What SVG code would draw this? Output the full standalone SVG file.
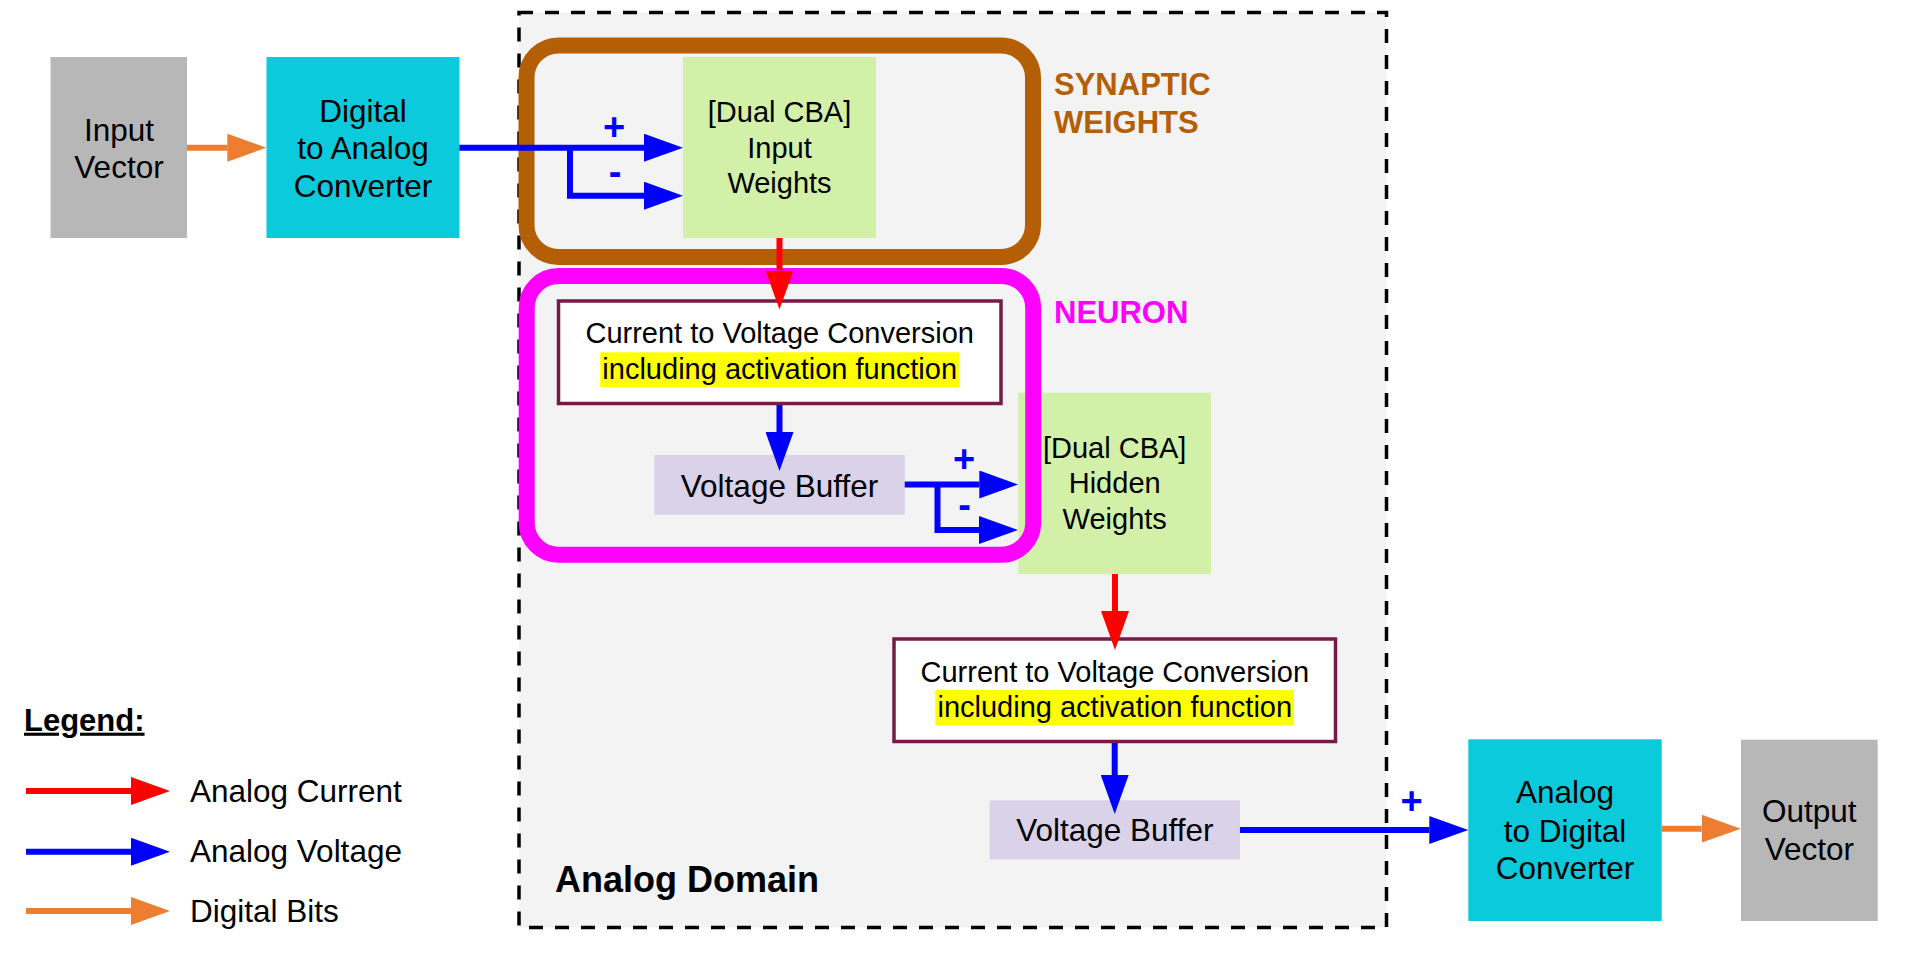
<svg xmlns="http://www.w3.org/2000/svg" width="1920" height="954" viewBox="0 0 1920 954">
<defs>
<style>
text{font-family:"Liberation Sans",Arial,sans-serif;fill:#000}
.lbl{font-size:31.5px;text-anchor:middle}
.wt{font-size:29px;text-anchor:middle}
.cv{font-size:29px;text-anchor:middle}
.sign{font-size:38px;font-weight:bold;fill:#0000ff;text-anchor:middle}
.leg{font-size:31.5px}
.vec{fill:#b7b7b7}
.conv{fill:#0bcadb}
.wbox{fill:#d2f0a7}
.buf{fill:#d9d2e9}
.cvbox{fill:#ffffff;stroke:#741b47;stroke-width:3.5}
.hl{fill:#ffff00}
.red{stroke:#ff0000;stroke-width:6;fill:none}
.blue{stroke:#0000ff;stroke-width:6;fill:none;stroke-linejoin:miter}
.orange{stroke:#ed7d31;stroke-width:6;fill:none}
</style>
<marker id="hr" markerUnits="userSpaceOnUse" markerWidth="40" markerHeight="28" refX="0" refY="14" orient="auto"><path d="M0,0 L39,14 L0,28 Z" fill="#ff0000"/></marker>
<marker id="hb" markerUnits="userSpaceOnUse" markerWidth="40" markerHeight="28" refX="0" refY="14" orient="auto"><path d="M0,0 L39,14 L0,28 Z" fill="#0000ff"/></marker>
<marker id="ho" markerUnits="userSpaceOnUse" markerWidth="40" markerHeight="28" refX="0" refY="14" orient="auto"><path d="M0,0 L39,14 L0,28 Z" fill="#ed7d31"/></marker>
</defs>
<rect width="1920" height="954" fill="#ffffff"/>

<g id="analog-domain">
<rect x="519" y="12.5" width="867.5" height="915" fill="#f3f3f3" stroke="#000" stroke-width="3.5" stroke-dasharray="14 12"/>
<text x="555" y="892" style="font-size:36px;font-weight:bold">Analog Domain</text>
</g>

<g id="input-vector">
<rect class="vec" x="50.5" y="57" width="136.5" height="181"/>
<text class="lbl" x="119" y="140.7">Input</text>
<text class="lbl" x="119" y="178.3">Vector</text>
</g>

<g id="dac">
<rect class="conv" x="266.5" y="57" width="193" height="181"/>
<text class="lbl" x="363" y="121.7">Digital</text>
<text class="lbl" x="363" y="159.3">to Analog</text>
<text class="lbl" x="363" y="197.3">Converter</text>
</g>

<g id="input-weights">
<rect class="wbox" x="683" y="57" width="193" height="181"/>
<text class="wt" x="779.5" y="121.7">[Dual CBA]</text>
<text class="wt" x="779.5" y="158.3">Input</text>
<text class="wt" x="779.5" y="193.3">Weights</text>
</g>

<g id="hidden-weights">
<rect class="wbox" x="1018.3" y="392.7" width="192.7" height="181.3"/>
<text class="wt" x="1114.7" y="457.7">[Dual CBA]</text>
<text class="wt" x="1114.7" y="493.3">Hidden</text>
<text class="wt" x="1114.7" y="529">Weights</text>
</g>

<g id="synaptic-weights">
<rect x="526.5" y="45.5" width="506.5" height="211.5" rx="32" ry="32" fill="none" stroke="#b45f06" stroke-width="16"/>
<text x="1054" y="95" style="font-size:31px;font-weight:bold;fill:#b45f06">SYNAPTIC</text>
<text x="1054" y="133.3" style="font-size:31px;font-weight:bold;fill:#b45f06">WEIGHTS</text>
</g>

<g id="neuron">
<rect x="526.7" y="276" width="506.5" height="278.7" rx="32" ry="32" fill="none" stroke="#ff00ff" stroke-width="16"/>
<text x="1054" y="323.3" style="font-size:31px;font-weight:bold;fill:#ff00ff">NEURON</text>
</g>

<g id="cv1">
<rect class="cvbox" x="558.5" y="301" width="442.5" height="102.5"/>
<rect class="hl" x="600.3" y="352.3" width="358.7" height="35"/>
<text class="cv" x="779.7" y="343.3">Current to Voltage Conversion</text>
<text class="cv" x="779.7" y="379.3">including activation function</text>
</g>

<g id="buffer1">
<rect class="buf" x="654.3" y="455" width="250.4" height="59.7"/>
<text class="lbl" x="779.5" y="496.7">Voltage Buffer</text>
</g>

<g id="cv2">
<rect class="cvbox" x="894" y="639" width="441.5" height="102.5"/>
<rect class="hl" x="935.3" y="690" width="358.7" height="35.3"/>
<text class="cv" x="1114.8" y="681.7">Current to Voltage Conversion</text>
<text class="cv" x="1114.8" y="717.3">including activation function</text>
</g>

<g id="buffer2">
<rect class="buf" x="989.7" y="800.3" width="250.3" height="59"/>
<text class="lbl" x="1114.8" y="840.7">Voltage Buffer</text>
</g>

<g id="adc">
<rect class="conv" x="1468.3" y="739.3" width="193.4" height="181.7"/>
<text class="lbl" x="1565" y="803.3">Analog</text>
<text class="lbl" x="1565" y="841.7">to Digital</text>
<text class="lbl" x="1565" y="879.3">Converter</text>
</g>

<g id="output-vector">
<rect class="vec" x="1741" y="739.7" width="136.7" height="181.3"/>
<text class="lbl" x="1809.3" y="821.7">Output</text>
<text class="lbl" x="1809.3" y="860">Vector</text>
</g>

<g id="connectors">
<path class="orange" d="M187,147.7 H227.3" marker-end="url(#ho)"/>
<path class="blue" d="M459.3,147.7 H644" marker-end="url(#hb)"/>
<path class="blue" d="M570,147.7 V195.7 H644" marker-end="url(#hb)"/>
<text class="sign" x="614" y="140">+</text>
<text class="sign" x="615" y="185">-</text>
<path class="red" d="M779.5,238 V270.5" marker-end="url(#hr)"/>
<path class="blue" d="M779.5,405 V432" marker-end="url(#hb)"/>
<path class="blue" d="M904.7,484.5 H979.3" marker-end="url(#hb)"/>
<path class="blue" d="M937.5,484.5 V530 H979" marker-end="url(#hb)"/>
<text class="sign" x="964" y="472.3">+</text>
<text class="sign" x="964.7" y="517.5">-</text>
<path class="red" d="M1115,574 V611" marker-end="url(#hr)"/>
<path class="blue" d="M1114.7,743 V775" marker-end="url(#hb)"/>
<path class="blue" d="M1240,830 H1429.3" marker-end="url(#hb)"/>
<text class="sign" x="1411.7" y="814">+</text>
<path class="orange" d="M1661.7,828.7 H1701.7" marker-end="url(#ho)"/>
</g>

<g id="legend">
<text x="24" y="730.7" style="font-size:31px;font-weight:bold;text-decoration:underline">Legend:</text>
<path class="red" d="M26,791 H131" marker-end="url(#hr)"/>
<text class="leg" x="190" y="801.7">Analog Current</text>
<path class="blue" d="M26,851.7 H131" marker-end="url(#hb)"/>
<text class="leg" x="190" y="862.3">Analog Voltage</text>
<path class="orange" d="M26,911 H131" marker-end="url(#ho)"/>
<text class="leg" x="190" y="921.7">Digital Bits</text>
</g>
</svg>
